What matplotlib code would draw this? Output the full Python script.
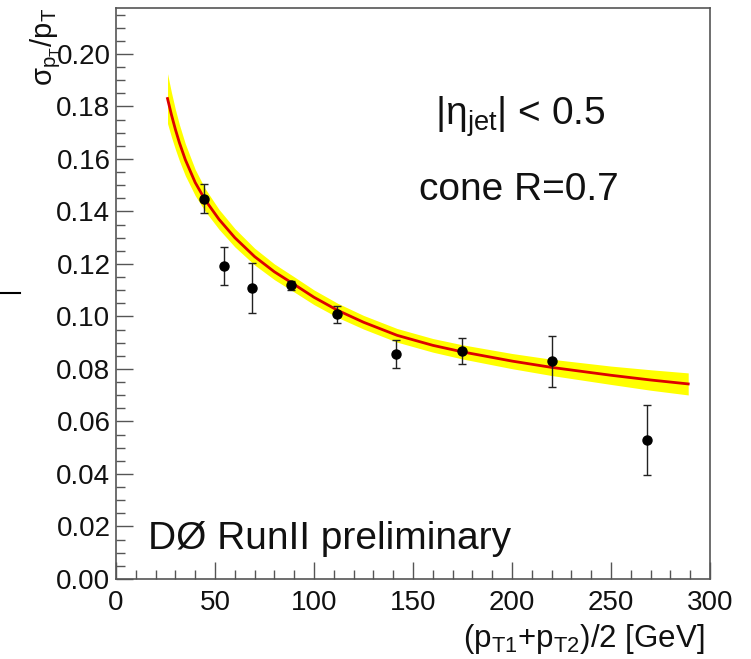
"""
Resolucion en pT de jets (DØ RunII preliminary) - sigma_pT/pT vs (pT1+pT2)/2
"""
import matplotlib
matplotlib.use("Agg")
import matplotlib.pyplot as plt
from matplotlib.lines import Line2D
from matplotlib.ticker import MultipleLocator

plt.rcParams['font.family'] = ['Liberation Sans', 'DejaVu Sans']
plt.rcParams['mathtext.fontset'] = 'custom'
plt.rcParams['mathtext.rm'] = 'Liberation Sans'
plt.rcParams['mathtext.it'] = 'Liberation Sans'
plt.rcParams['mathtext.sf'] = 'Liberation Sans'

# puntos medidos
pt_mean = [44.4, 54.5, 68.7, 88.4, 111.6, 141.4, 174.7, 220.2, 268.0]
reso = [0.1448, 0.1192, 0.1109, 0.1118, 0.1008, 0.0857, 0.0869, 0.0830, 0.0530]
reso_err = [0.0055, 0.0074, 0.0096, 0.0018, 0.0032, 0.0052, 0.0050, 0.0097, 0.0133]

# ajuste y banda de error
fit_pt = [26, 28, 30, 32, 35, 40, 45, 52, 60, 70, 80, 90, 100, 112, 125, 142,
          160, 175, 200, 220, 250, 270, 289]
fit_reso = [0.1830, 0.1768, 0.1712, 0.1662, 0.1597, 0.1510, 0.1444, 0.1370,
            0.1300, 0.1228, 0.1170, 0.1122, 0.1073, 0.1023, 0.0978, 0.0928,
            0.0890, 0.0865, 0.0830, 0.0806, 0.0776, 0.0758, 0.0743]
fit_band = [0.0095, 0.0085, 0.0076, 0.0069, 0.0061, 0.0050, 0.0043, 0.0038,
            0.0035, 0.0032, 0.0030, 0.0029, 0.0028, 0.0027, 0.0026, 0.0026,
            0.0026, 0.0027, 0.0029, 0.0031, 0.0035, 0.0039, 0.0042]

fig = plt.figure(figsize=(7.51, 6.59), dpi=100)
ax = fig.add_axes([0.1545, 0.1214, 0.7909, 0.8665])

lo = [r - b for r, b in zip(fit_reso, fit_band)]
hi = [r + b for r, b in zip(fit_reso, fit_band)]
ax.fill_between(fit_pt, lo, hi, color='#ffff00', linewidth=0, zorder=1)
ax.plot(fit_pt, fit_reso, color='#dd0000', linewidth=2.0, zorder=2)

ax.errorbar(pt_mean, reso, yerr=reso_err, fmt='o', color='black', ecolor='#222222',
            markersize=6.5, elinewidth=1.0, capsize=3, capthick=1.0, zorder=3)

ax.set_xlim(0, 300)
ax.set_ylim(0, 0.2175)
ax.xaxis.set_major_locator(MultipleLocator(50))
ax.xaxis.set_minor_locator(MultipleLocator(10))
ax.yaxis.set_major_locator(MultipleLocator(0.02))
ax.yaxis.set_minor_locator(MultipleLocator(0.005))
ax.yaxis.set_major_formatter(plt.FormatStrFormatter('%.2f'))

ax.tick_params(which='both', direction='in', top=False, right=False,
               color='#555555', labelsize=20, labelcolor='#111111')
ax.tick_params(which='major', length=12, width=1.0)
ax.tick_params(which='minor', length=6.5, width=1.0)
ax.tick_params(axis='x', pad=8)
ax.tick_params(axis='y', pad=4)
for s in ax.spines.values():
    s.set_color('#555555')
    s.set_linewidth(1.2)

# titulos de los ejes al estilo ROOT
ax.text(0.99, -0.075, r'(p$_{\mathregular{T1}}$+p$_{\mathregular{T2}}$)/2 [GeV]',
        transform=ax.transAxes, ha='right', va='top', fontsize=22.5, color='#111111')
ax.text(-0.118, 1.0, r'$\mathregular{\sigma_{p_{T}}/p_{T}}$', transform=ax.transAxes,
        rotation=90, ha='center', va='top', fontsize=21, color='#111111')

ax.text(0.68, 0.795, r'$\mathregular{|\eta_{jet}|}$ < 0.5', transform=ax.transAxes,
        ha='center', va='baseline', fontsize=28, color='#111111')
ax.text(0.678, 0.664, 'cone R=0.7', transform=ax.transAxes,
        ha='center', va='baseline', fontsize=28, color='#111111')
ax.text(16, 0.0115, 'DØ RunII preliminary', ha='left', va='baseline',
        fontsize=28, color='#111111')

# trazo suelto a la izquierda
fig.add_artist(Line2D([0.0, 0.027], [1 - 293 / 659, 1 - 293 / 659],
                      transform=fig.transFigure, color='black', linewidth=1.5))

fig.savefig('out.png', dpi=100)
